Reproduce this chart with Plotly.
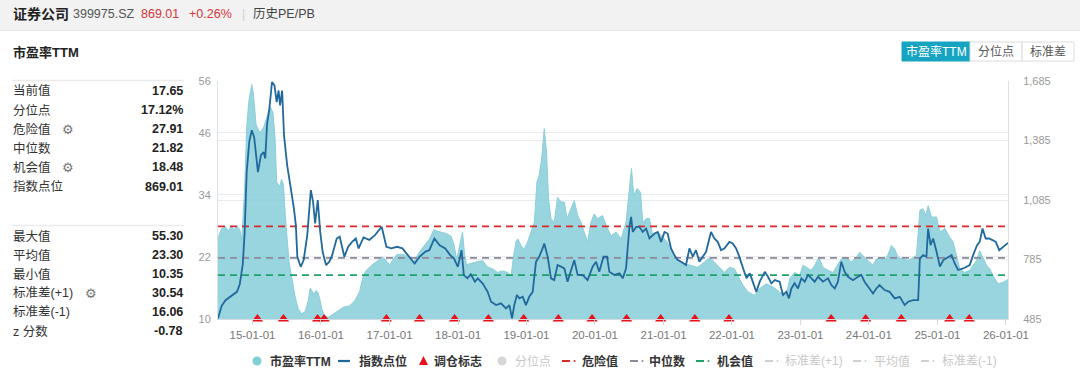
import plotly.graph_objects as go

# ---------------- data ----------------
pe_dates = [
    "2014-07-01", "2014-07-20", "2014-08-10", "2014-08-25", "2014-09-10", "2014-09-25",
    "2014-10-10", "2014-10-25", "2014-11-05", "2014-11-20", "2014-12-01", "2014-12-12",
    "2014-12-28", "2015-01-06", "2015-01-20", "2015-02-10", "2015-03-01", "2015-03-20",
    "2015-04-05", "2015-04-20", "2015-05-01", "2015-05-10", "2015-05-25", "2015-06-05",
    "2015-06-15", "2015-06-25", "2015-07-05", "2015-07-15", "2015-08-01", "2015-08-15",
    "2015-09-01", "2015-09-20", "2015-10-10", "2015-10-25", "2015-11-05", "2015-11-15",
    "2015-11-25", "2015-12-05", "2015-12-15", "2015-12-25", "2016-01-05", "2016-01-20",
    "2016-02-10", "2016-03-01", "2016-04-01", "2016-05-01", "2016-06-01", "2016-07-01",
    "2016-07-25", "2016-08-15", "2016-09-01", "2016-10-01", "2016-11-01", "2016-11-20",
    "2016-12-10", "2016-12-31", "2017-01-20", "2017-02-10", "2017-03-15", "2017-04-15",
    "2017-05-10", "2017-06-01", "2017-07-01", "2017-08-01", "2017-08-25", "2017-09-10",
    "2017-10-01", "2017-11-01", "2017-11-25", "2017-12-10", "2017-12-25", "2018-01-15",
    "2018-01-25", "2018-02-05", "2018-02-15", "2018-03-15",
    "2018-04-16", "2018-05-12", "2018-06-08", "2018-07-05", "2018-07-31", "2018-08-27",
    "2018-09-23", "2018-10-11", "2018-10-25", "2018-11-06", "2018-11-15", "2018-12-03",
    "2018-12-20", "2019-01-07", "2019-01-25", "2019-02-12", "2019-02-26", "2019-03-10",
    "2019-03-23", "2019-04-06", "2019-04-18", "2019-04-29", "2019-05-12", "2019-05-29",
    "2019-06-16", "2019-07-04", "2019-07-22", "2019-08-05", "2019-08-26", "2019-09-13",
    "2019-10-01", "2019-10-19", "2019-11-05", "2019-11-23", "2019-12-11", "2019-12-28",
    "2020-01-15", "2020-02-11", "2020-03-01", "2020-03-27", "2020-04-23", "2020-05-20",
    "2020-06-15", "2020-07-03", "2020-07-14", "2020-07-26", "2020-08-13", "2020-08-31",
    "2020-09-12", "2020-09-30", "2020-10-18", "2020-11-04", "2020-12-01", "2021-01-06",
    "2021-02-02", "2021-02-28", "2021-03-27", "2021-04-22", "2021-05-28", "2021-07-02",
    "2021-08-07", "2021-09-03", "2021-09-29", "2021-10-26", "2021-11-22", "2021-12-18",
    "2022-01-14", "2022-02-01",
    "2022-02-11", "2022-03-01", "2022-03-28", "2022-05-02", "2022-05-29", "2022-07-03",
    "2022-08-08", "2022-09-12", "2022-10-18", "2022-11-05", "2022-12-01", "2022-12-28",
    "2023-01-15", "2023-02-01", "2023-02-28", "2023-03-18", "2023-04-10", "2023-05-01",
    "2023-05-28", "2023-06-24", "2023-07-20", "2023-08-07", "2023-09-03", "2023-09-29",
    "2023-10-26", "2023-11-13", "2023-12-09", "2024-01-05", "2024-01-23", "2024-02-10",
    "2024-03-08", "2024-04-03", "2024-04-30", "2024-05-18", "2024-06-05", "2024-07-01",
    "2024-07-28", "2024-08-24", "2024-09-11", "2024-09-29", "2024-10-16", "2024-10-31",
    "2024-11-12", "2024-11-30", "2024-12-27", "2025-01-14", "2025-02-09", "2025-03-07",
    "2025-03-25", "2025-04-12", "2025-04-30", "2025-05-26", "2025-06-22", "2025-07-10",
    "2025-07-28", "2025-08-14", "2025-09-01", "2025-09-19", "2025-10-07", "2025-10-24",
    "2025-11-20", "2025-12-17", "2026-01-12",
]
pe_values = [
    25.6, 27.5, 27.8, 27.0, 28.0, 27.2,
    28.0, 27.3, 25.3, 35.0, 47.0, 52.0,
    55.3, 53.5, 47.5, 46.0, 47.0, 49.0,
    51.0, 50.0, 45.0, 36.5, 35.5, 37.0,
    36.0, 30.0, 25.0, 21.0, 17.5, 14.5,
    12.0, 11.0, 11.5, 13.5, 16.0, 15.5,
    14.8, 15.5, 15.2, 14.0, 12.0, 10.6,
    10.35, 10.8, 11.6, 12.3, 12.5, 13.6,
    15.3, 18.5, 19.5, 20.5, 21.3, 22.0,
    21.5, 20.5, 21.5, 22.5, 22.5, 22.0,
    21.0, 22.5, 24.0, 25.4, 27.3, 27.0,
    26.8, 26.5, 26.0, 24.5, 21.5, 25.5,
    26.8, 22.5, 20.5, 20.8,
    21.0, 21.3, 20.0, 19.7, 19.0, 19.3,
    19.0, 18.4, 22.3, 24.9, 25.5, 24.2,
    23.5, 24.9, 26.8, 28.7, 36.5, 37.8,
    41.0, 46.8, 42.3, 33.2, 29.4, 28.7,
    33.5, 32.6, 32.6, 29.4, 31.3, 32.9,
    30.0, 28.7, 26.8, 24.9, 28.7, 30.3,
    29.4, 30.0, 28.1, 26.1, 26.8, 25.5,
    28.7, 35.8, 39.1, 33.9, 35.2, 34.5,
    28.7, 29.4, 29.4, 26.1, 26.8, 25.5,
    24.2, 22.3, 21.0, 20.7, 20.4, 20.0,
    21.0, 21.9, 21.0, 20.0, 19.0, 20.0,
    19.7, 18.4,
    17.8, 16.5, 15.2, 14.6, 15.9, 16.8,
    16.2, 15.2, 14.6, 17.8, 19.0, 18.4,
    20.4, 20.0, 19.4, 20.4, 21.9, 20.0,
    19.4, 19.0, 20.4, 21.6, 21.9, 21.0,
    21.9, 22.9, 21.9, 21.0, 20.4, 21.6,
    21.9, 21.6, 24.2, 23.5, 21.9, 21.6,
    21.3, 21.9, 22.3, 31.0, 31.3, 30.0,
    31.9, 29.7, 29.7, 26.8, 27.5, 25.8,
    24.9, 22.3, 19.7, 19.0, 19.4, 20.4,
    21.3, 23.2, 21.9, 20.4, 19.7, 18.4,
    16.8, 17.1, 17.65,
]

idx_dates = [
    "2014-07-01", "2014-07-20", "2014-08-10", "2014-09-01", "2014-09-20", "2014-10-10",
    "2014-10-25", "2014-11-10", "2014-11-20", "2014-12-01", "2014-12-15", "2014-12-28",
    "2015-01-10", "2015-01-20", "2015-01-30", "2015-02-15", "2015-03-01", "2015-03-10",
    "2015-03-20", "2015-04-01", "2015-04-15", "2015-04-28", "2015-05-10", "2015-05-20",
    "2015-05-28", "2015-06-08", "2015-06-18", "2015-07-05", "2015-07-25", "2015-08-10",
    "2015-08-20", "2015-08-28", "2015-09-15", "2015-10-01", "2015-10-20", "2015-11-08",
    "2015-11-20", "2015-12-01", "2015-12-15", "2015-12-28", "2016-01-10", "2016-01-28",
    "2016-02-15", "2016-03-01", "2016-03-25", "2016-04-10", "2016-05-05", "2016-05-25",
    "2016-06-15", "2016-07-05", "2016-07-20", "2016-08-15", "2016-09-15", "2016-10-15",
    "2016-11-20", "2016-12-15", "2017-01-10", "2017-02-10", "2017-03-10", "2017-04-01",
    "2017-04-25", "2017-05-15", "2017-06-10", "2017-07-10", "2017-08-01", "2017-08-28",
    "2017-09-25", "2017-10-25", "2017-11-20", "2017-12-10", "2017-12-31", "2018-01-20",
    "2018-02-01", "2018-02-20", "2018-03-10", "2018-04-01",
    "2018-04-16", "2018-05-12", "2018-06-08", "2018-06-26", "2018-07-23", "2018-08-18",
    "2018-09-14", "2018-10-02", "2018-10-16", "2018-10-28", "2018-11-11", "2018-11-24",
    "2018-12-12", "2018-12-29", "2019-01-16", "2019-02-03", "2019-02-21", "2019-03-10",
    "2019-03-28", "2019-04-06", "2019-04-24", "2019-05-12", "2019-05-29", "2019-06-16",
    "2019-07-04", "2019-07-22", "2019-08-08", "2019-08-26", "2019-09-13", "2019-10-01",
    "2019-10-27", "2019-11-23", "2019-12-20", "2020-01-07", "2020-01-24", "2020-02-16",
    "2020-03-06", "2020-03-18", "2020-04-14", "2020-05-11", "2020-05-29", "2020-06-15",
    "2020-07-03", "2020-07-12", "2020-07-21", "2020-08-08", "2020-08-25", "2020-09-12",
    "2020-09-30", "2020-10-18", "2020-11-14", "2020-12-01", "2020-12-19", "2021-01-06",
    "2021-01-23", "2021-02-10", "2021-02-28", "2021-03-18", "2021-04-05", "2021-05-01",
    "2021-05-19", "2021-06-06", "2021-06-23", "2021-07-11", "2021-07-29", "2021-08-16",
    "2021-09-11", "2021-09-29", "2021-10-17", "2021-11-04", "2021-11-22", "2021-12-18",
    "2022-01-05", "2022-01-23", "2022-02-06",
    "2022-03-01", "2022-03-19", "2022-04-06", "2022-04-23", "2022-05-11", "2022-05-29",
    "2022-06-25", "2022-07-12", "2022-07-30", "2022-08-17", "2022-09-12", "2022-09-30",
    "2022-10-18", "2022-11-01", "2022-11-14", "2022-12-01", "2022-12-19", "2023-01-06",
    "2023-01-24", "2023-02-11", "2023-02-28", "2023-03-18", "2023-04-05", "2023-05-01",
    "2023-05-28", "2023-06-15", "2023-07-03", "2023-07-20", "2023-08-07", "2023-08-25",
    "2023-09-12", "2023-10-08", "2023-11-04", "2023-11-22", "2023-12-09", "2024-01-05",
    "2024-01-23", "2024-02-10", "2024-02-27", "2024-03-25", "2024-04-21", "2024-05-18",
    "2024-06-14", "2024-07-10", "2024-07-28", "2024-08-24", "2024-09-20", "2024-09-29",
    "2024-10-16", "2024-11-03", "2024-11-12", "2024-11-25", "2024-12-09", "2024-12-27",
    "2025-01-14", "2025-02-01", "2025-02-27", "2025-03-17", "2025-04-03", "2025-04-21",
    "2025-05-18", "2025-06-04", "2025-06-22", "2025-07-10", "2025-07-31", "2025-08-14",
    "2025-08-29", "2025-09-15", "2025-10-03", "2025-10-21", "2025-11-08", "2025-11-26",
    "2025-12-17", "2026-01-12",
]
idx_values = [
    488, 550, 580, 595, 610, 622,
    660, 760, 920, 1226, 1380, 1437,
    1400, 1300, 1226, 1311, 1327, 1294,
    1470, 1546, 1680, 1663, 1579, 1637,
    1562, 1637, 1411, 1260, 1143, 1042,
    960, 799, 748, 782, 908, 1135,
    1076, 967, 1085, 924, 824, 757,
    774, 807, 891, 900, 799, 849,
    874, 891, 841, 896, 884, 908,
    950, 849, 841, 849, 841, 816,
    791, 765, 799, 824, 832, 891,
    857, 841, 807, 791, 748, 832,
    706, 690, 710, 673,
    690, 665, 622, 572, 555, 564,
    538, 555, 488, 555, 606, 589,
    597, 555, 597, 622, 774, 799,
    841, 866, 799, 690, 681, 757,
    749, 740, 673, 723, 782, 707,
    707, 681, 749, 774, 723, 799,
    799, 723, 707, 715, 690, 740,
    950, 1000, 924, 950, 950, 924,
    941, 891, 916, 924, 874, 924,
    916, 841, 807, 782, 774, 757,
    841, 799, 832, 774, 799, 824,
    924, 891, 874, 832, 841, 874,
    866, 841, 807,
    740, 690, 715, 665, 622, 673,
    723, 698, 665, 681, 673, 606,
    622, 589, 639, 665, 639, 690,
    673, 707, 690, 673, 698, 673,
    690, 656, 639, 673, 774, 723,
    698, 681, 698, 707, 673, 639,
    614, 639, 656, 631, 622, 589,
    597, 555, 572, 580, 580, 790,
    807, 799, 941, 857, 891, 824,
    749, 782, 799, 807, 765, 732,
    740, 749, 757, 807, 857, 874,
    941, 891, 891, 883, 874, 832,
    849, 869.01,
]

rebalance_dates = [
    "2015-01-27", "2015-06-15", "2015-12-14", "2016-01-18", "2016-12-15", "2017-06-10",
    "2017-12-14", "2018-06-12", "2018-12-17", "2019-06-20", "2019-12-17", "2020-06-18",
    "2020-12-17", "2021-06-17", "2021-12-16", "2023-06-14", "2023-12-15", "2024-06-22",
    "2025-03-07", "2025-06-19",
]

danger_value = 27.91
median_value = 21.82
chance_value = 18.48

pe_ticks = [10, 22, 34, 46, 56]
idx_ticks = [485, 785, 1085, 1385, 1685]

stat_labels_top = ["当前值", "分位点", "危险值", "中位数", "机会值", "指数点位"]
stat_values_top = ["17.65", "17.12%", "27.91", "21.82", "18.48", "869.01"]
stat_labels_bottom = ["最大值", "平均值", "最小值", "标准差(+1)", "标准差(-1)", "z 分数"]
stat_values_bottom = ["55.30", "23.30", "10.35", "30.54", "16.06", "-0.78"]
gear_labels = ["危险值", "机会值", "标准差(+1)"]

legend_labels = ["市盈率TTM", "指数点位", "调仓标志", "分位点", "危险值", "中位数",
                 "机会值", "标准差(+1)", "平均值", "标准差(-1)"]

# ---------------- layout geometry ----------------
W, H = 1080, 386
ML, MR, MT, MB = 218, 72, 81, 67
PW, PH = W - ML - MR, H - MT - MB


def PX(x):
    return (x - ML) / PW


def PY(y):
    return (H - MB - y) / PH


FONT = "Liberation Sans, Arial, Noto Sans CJK SC, sans-serif"
TEAL_FILL = "rgba(134, 206, 217, 0.85)"
TEAL_LINE = "#8bcfd9"
IDX_COLOR = "#21699c"
RED = "#d8292b"
GRAY_DASH = "#8e8a99"
GREEN = "#1fa36b"
OFF = "#cfcfcf"

fig = go.Figure()
x_first, x_last = pe_dates[0], pe_dates[-1]

fig.add_trace(go.Scatter(
    x=pe_dates, y=pe_values, mode="lines", fill="tozeroy",
    line=dict(color=TEAL_LINE, width=1), fillcolor=TEAL_FILL, name="市盈率TTM"))
for name, val, col in [("危险值", danger_value, RED),
                       ("中位数", median_value, GRAY_DASH),
                       ("机会值", chance_value, GREEN)]:
    fig.add_trace(go.Scatter(x=[x_first, x_last], y=[val, val], mode="lines", name=name,
                             line=dict(color=col, width=1.6, dash="7px,5px")))
fig.add_trace(go.Scatter(x=rebalance_dates, y=[pe_ticks[0]] * len(rebalance_dates),
                         mode="markers", name="调仓标志", cliponaxis=False,
                         marker=dict(symbol="triangle-up", size=10, color="#e8101a")))
fig.add_trace(go.Scatter(x=idx_dates, y=idx_values, mode="lines", name="指数点位",
                         line=dict(color=IDX_COLOR, width=1.8), yaxis="y2"))

fig.update_layout(
    width=W, height=H,
    margin=dict(l=ML, r=MR, t=MT, b=MB, pad=0),
    paper_bgcolor="white", plot_bgcolor="white",
    font=dict(family=FONT, size=12, color="#333"),
    showlegend=False,
    xaxis=dict(
        type="date", range=[x_first, x_last],
        tick0="2015-01-01", dtick="M12", tickformat="%y-%m-%d",
        showgrid=False, ticks="outside", ticklen=5, tickcolor="#d6dbe2",
        showline=True, linecolor="#d6dbe2", linewidth=1,
        tickfont=dict(size=11.5, color="#777"), zeroline=False, ticklabelstandoff=0,
    ),
    yaxis=dict(
        range=[pe_ticks[0], pe_ticks[-1]], tickvals=pe_ticks,
        showgrid=True, gridcolor="#e8ebef", gridwidth=1,
        showline=True, linecolor="#dbe2ea", zeroline=False,
        tickfont=dict(size=11, color="#999"), ticklabelstandoff=4,
    ),
    yaxis2=dict(
        range=[idx_ticks[0], idx_ticks[-1]], tickvals=idx_ticks, tickformat=",d",
        overlaying="y", side="right",
        showgrid=True, gridcolor="#e8ebef", gridwidth=1,
        showline=True, linecolor="#dbe2ea", zeroline=False,
        tickfont=dict(size=11, color="#999"), ticklabelstandoff=12,
    ),
)

# ---------------- decorations ----------------
shapes = []
ann = []


def text(x, y, s, size=12, color="#333", anchor="left", bold=False):
    if bold:
        s = "<b>" + s + "</b>"
    ann.append(dict(x=PX(x), y=PY(y), xref="paper", yref="paper", text=s,
                    showarrow=False, xanchor=anchor, yanchor="middle",
                    font=dict(size=size, color=color, family=FONT)))


def seg(x0, y0, x1, y1, color, width):
    shapes.append(dict(type="line", xref="paper", yref="paper",
                       x0=PX(x0), x1=PX(x1), y0=PY(y0), y1=PY(y1),
                       line=dict(color=color, width=width)))


def dot(cx, cy, r, color):
    shapes.append(dict(type="circle", xref="paper", yref="paper",
                       x0=PX(cx - r), x1=PX(cx + r), y0=PY(cy + r), y1=PY(cy - r),
                       fillcolor=color, line=dict(width=0)))


# header strip
shapes.append(dict(type="rect", xref="paper", yref="paper",
                   x0=PX(0), x1=PX(W), y0=PY(30), y1=PY(0),
                   fillcolor="#f2f2f2", line=dict(width=0), layer="below"))
seg(0, 30.5, W, 30.5, "#e6e6e6", 1)
for ysep in [80.5, 225.5]:
    seg(12, ysep, 184, ysep, "#ebebeb", 1.5)

# buttons
btn_labels = ["市盈率TTM", "分位点", "标准差"]
btn_edges = [902, 970, 1022, 1074]
for i, lab in enumerate(btn_labels):
    sel = i == 0
    shapes.append(dict(type="rect", xref="paper", yref="paper",
                       x0=PX(btn_edges[i]), x1=PX(btn_edges[i + 1]), y0=PY(61), y1=PY(42),
                       fillcolor="#17a4c2" if sel else "white",
                       line=dict(color="#17a4c2" if sel else "#dcdcdc", width=1)))
    ann.append(dict(x=PX((btn_edges[i] + btn_edges[i + 1]) / 2), y=PY(51.5), xref="paper",
                    yref="paper", text=lab, showarrow=False, xanchor="center",
                    yanchor="middle",
                    font=dict(size=12, color="white" if sel else "#555", family=FONT)))

# header text
text(11, 14, "证券公司", size=14, color="#222", bold=True)
text(71, 14, "399975.SZ", size=12.5, color="#555")
text(139, 14, "869.01", size=12.5, color="#d9363a")
text(187, 14, "+0.26%", size=12.5, color="#d9363a")
text(240, 14, "|", size=12, color="#d0d0d0")
text(251, 14, "历史PE/PB", size=12.5, color="#444")
text(11, 52, "市盈率TTM", size=13, color="#222", bold=True)

# stats panel
row_top = [91, 110, 129.3, 148.3, 167.3, 186.5]
row_bot = [236, 255, 274, 293.3, 311.7, 331]
for labels, values, rows in [(stat_labels_top, stat_values_top, row_top),
                             (stat_labels_bottom, stat_values_bottom, row_bot)]:
    for lab, val, yy in zip(labels, values, rows):
        text(11, yy, lab, size=12.5, color="#333")
        text(185, yy, val, size=12.5, color="#222", anchor="right", bold=True)
        if lab in gear_labels:
            gx = 61 if "(" not in lab else 84
            text(gx - 1, yy, "⚙", size=13, color="#777")

# custom legend (symbols + labels)
LY = 361
sym_x = [257, 344, 423.5, 502, 566, 634, 700, 769, 857, 925]
txt_x = [268, 357, 432, 513, 580, 647, 715, 783, 872, 940]
active = [True, True, True, False, True, True, True, False, False, False]
dash_cols = {4: RED, 5: GRAY_DASH, 6: GREEN, 7: OFF, 8: OFF, 9: OFF}
for i, lab in enumerate(legend_labels):
    sx = sym_x[i]
    if i == 0:
        dot(sx, LY, 4.5, "#7fcfd9")
    elif i == 1:
        seg(sx - 6, LY, sx + 6, LY, IDX_COLOR, 2.2)
    elif i == 2:
        shapes.append(dict(type="path", xref="paper", yref="paper",
                           path=f"M {PX(sx - 4.5)},{PY(LY + 4)} L {PX(sx + 4.5)},{PY(LY + 4)} "
                                f"L {PX(sx)},{PY(LY - 5)} Z",
                           fillcolor="#e8101a", line=dict(width=0)))
    elif i == 3:
        dot(sx, LY, 4.5, "#d6d6d6")
    else:
        c = dash_cols[i]
        seg(sx - 4, LY, sx + 4, LY, c, 2)
        dot(sx + 8.5, LY, 1, c)
    text(txt_x[i], LY, lab, size=12, color="#333" if active[i] else "#c8c8c8",
         bold=active[i])

fig.update_layout(shapes=shapes, annotations=ann)

fig.write_html("out.html",
               config={"displayModeBar": False},
               post_script="document.body.style.margin='0';"
                           "document.documentElement.style.overflow='hidden';")
